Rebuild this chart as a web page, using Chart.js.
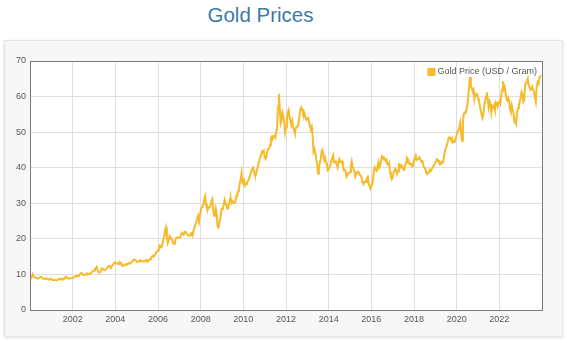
<!DOCTYPE html>
<html>
<head>
<meta charset="utf-8">
<title>Gold Prices</title>
<script src="https://cdn.jsdelivr.net/npm/chart.js@4/dist/chart.umd.min.js"></script>
<style>
    html, body { margin: 0; padding: 0; background: #fff; }
    body { width: 567px; height: 343px; position: relative; overflow: hidden; font-family: "Liberation Sans", Arial, sans-serif; }
    .page-title { position: absolute; left: 0; top: 3px; width: 521px; text-align: center; font-size: 20.5px; color: #3b7ba6; }
    .chart-panel { position: absolute; left: 4px; top: 40px; width: 557px; height: 295px; background: #f7f7f7; border: 1px solid #e4e4e4; box-shadow: 0 1px 3px rgba(0,0,0,0.12); }
    #ChartGoldPrices { position: absolute; left: 0; top: 0; }
</style>
</head>
<body>
<div class="page-title">Gold Prices</div>
<div class="chart-panel"></div>
<canvas id="ChartGoldPrices" width="567" height="343"></canvas>

<script>
    var seriesLabel = "Gold Price (USD / Gram)";

    // one row per year, two readings a month (USD per gram)
    var years = [2000, 2001, 2002, 2003, 2004, 2005, 2006, 2007, 2008, 2009, 2010, 2011,
                 2012, 2013, 2014, 2015, 2016, 2017, 2018, 2019, 2020, 2021, 2022, 2023];

    var gramPrices = [
        [9.6, 9.3, 9.2, 10.0, 9.5, 9.3, 9.1, 9.0, 8.9, 8.8, 8.8, 9.2, 9.3, 9.2, 9.0, 8.8, 8.8, 8.8, 8.7, 8.8, 8.6, 8.5, 8.7, 8.8],
        [8.6, 8.5, 8.4, 8.5, 8.5, 8.4, 8.3, 8.4, 8.7, 8.8, 8.7, 8.6, 8.6, 8.8, 8.7, 8.9, 9.3, 9.0, 9.1, 8.9, 8.8, 8.9, 8.9, 8.9],
        [9.0, 9.1, 9.3, 9.5, 9.6, 9.4, 9.6, 9.8, 10.0, 10.3, 10.4, 10.1, 9.8, 9.9, 9.9, 10.0, 10.3, 10.2, 10.1, 10.2, 10.3, 10.4, 10.8, 11.0],
        [11.1, 11.5, 11.7, 12.1, 11.2, 10.6, 10.5, 10.6, 11.2, 11.7, 11.6, 11.3, 11.2, 11.4, 11.6, 11.9, 12.3, 12.4, 12.2, 12.0, 12.3, 12.6, 13.0, 13.3],
        [13.4, 13.2, 13.1, 12.9, 13.2, 13.5, 13.3, 12.6, 12.4, 12.6, 12.6, 12.8, 12.7, 12.9, 12.9, 13.2, 13.0, 13.2, 13.5, 13.6, 14.0, 14.2, 14.2, 14.0],
        [13.6, 13.5, 13.6, 13.8, 14.0, 13.7, 13.8, 13.8, 13.6, 13.8, 13.9, 14.1, 13.6, 13.7, 14.0, 14.3, 14.6, 15.0, 15.2, 15.0, 15.3, 15.6, 16.3, 16.4],
        [16.8, 17.8, 18.1, 17.6, 17.7, 18.6, 19.8, 20.8, 22.4, 23.2, 20.3, 18.8, 19.6, 20.8, 20.5, 20.0, 19.7, 18.8, 18.6, 18.9, 20.0, 20.4, 20.4, 20.3],
        [20.2, 20.5, 21.3, 21.7, 21.4, 21.2, 21.9, 22.0, 21.6, 21.2, 21.0, 20.8, 21.0, 21.5, 21.6, 21.0, 22.3, 23.3, 23.9, 24.6, 25.6, 26.5, 25.5, 26.3],
        [27.7, 28.8, 29.0, 29.7, 31.0, 32.0, 29.8, 28.8, 28.3, 28.9, 28.8, 29.4, 30.6, 31.2, 28.6, 26.5, 26.8, 28.5, 27.2, 23.5, 23.2, 24.7, 25.5, 27.5],
        [28.4, 28.8, 29.6, 31.0, 30.2, 29.5, 28.5, 28.7, 29.7, 31.2, 31.3, 30.1, 30.5, 30.0, 30.2, 30.4, 32.0, 32.0, 33.4, 34.0, 35.6, 36.7, 38.5, 35.8],
        [35.5, 36.3, 35.0, 35.4, 35.6, 36.2, 36.6, 37.5, 38.1, 39.2, 39.6, 40.0, 38.9, 38.0, 37.9, 39.2, 40.0, 41.0, 42.2, 43.0, 43.6, 44.6, 44.4, 44.8],
        [43.1, 42.5, 43.1, 44.6, 45.3, 45.4, 46.3, 48.2, 48.7, 48.1, 49.0, 49.0, 48.5, 50.2, 51.2, 57.2, 60.8, 57.0, 52.5, 53.3, 55.5, 54.5, 52.8, 50.0],
        [51.4, 53.4, 55.4, 56.2, 54.6, 53.0, 52.0, 53.2, 51.6, 50.5, 49.7, 51.2, 51.4, 51.8, 52.2, 54.0, 56.4, 57.0, 56.5, 55.4, 55.8, 55.0, 54.0, 53.5],
        [53.9, 54.0, 52.8, 51.6, 51.0, 51.6, 49.0, 44.5, 45.2, 44.2, 42.4, 41.0, 38.4, 39.8, 41.4, 42.2, 44.5, 45.0, 43.6, 42.2, 42.8, 41.5, 40.8, 39.3],
        [39.6, 40.3, 40.6, 42.0, 42.5, 43.4, 41.5, 41.6, 41.7, 41.0, 40.1, 41.6, 42.4, 41.6, 41.5, 41.8, 40.4, 39.3, 39.4, 39.0, 37.5, 38.0, 38.4, 38.5],
        [38.8, 40.6, 41.8, 40.2, 39.6, 38.8, 37.6, 38.6, 38.5, 38.9, 38.8, 38.0, 37.8, 37.3, 35.9, 35.4, 36.0, 36.2, 36.0, 37.0, 37.4, 35.6, 34.8, 34.2],
        [35.0, 35.3, 36.8, 39.6, 40.0, 39.6, 39.2, 40.3, 41.5, 40.0, 40.6, 42.0, 43.2, 42.8, 43.0, 42.3, 42.0, 42.3, 41.0, 40.8, 41.3, 38.8, 37.5, 36.8],
        [37.4, 38.6, 39.2, 39.7, 39.5, 38.3, 39.0, 41.0, 40.9, 40.2, 40.6, 40.0, 39.5, 39.4, 40.6, 41.5, 42.8, 42.5, 41.6, 41.0, 41.2, 40.9, 40.3, 40.6],
        [42.3, 42.8, 43.4, 42.2, 42.4, 42.5, 42.9, 42.4, 41.8, 41.9, 41.2, 40.2, 40.0, 39.5, 38.4, 38.2, 38.6, 38.7, 39.5, 39.3, 39.6, 40.1, 40.5, 41.1],
        [41.3, 41.9, 42.4, 42.2, 41.6, 41.3, 41.0, 41.6, 41.4, 41.6, 43.5, 45.0, 45.6, 45.6, 47.3, 48.4, 48.6, 48.3, 47.6, 48.2, 47.1, 47.3, 47.5, 48.3],
        [49.3, 50.2, 50.6, 51.4, 52.6, 49.6, 47.6, 52.8, 55.0, 55.5, 55.4, 56.3, 57.4, 59.8, 63.0, 65.5, 62.8, 62.5, 61.4, 61.9, 59.3, 60.8, 60.5, 60.6],
        [59.5, 59.0, 57.5, 56.2, 55.0, 54.0, 55.0, 57.3, 58.8, 60.0, 61.2, 59.0, 57.0, 58.6, 57.9, 55.5, 57.3, 57.0, 57.5, 56.4, 58.5, 58.2, 57.2, 58.3],
        [58.6, 58.0, 60.0, 62.0, 64.3, 62.1, 62.7, 60.9, 59.5, 58.9, 59.6, 58.6, 56.4, 55.7, 57.5, 56.3, 55.2, 53.0, 53.4, 52.5, 55.8, 56.7, 57.5, 58.6],
        [59.8, 61.3, 60.7, 58.5, 59.0, 63.2, 64.0, 64.2, 65.0, 63.2, 62.6, 61.9, 62.1, 62.8, 61.8, 61.4, 59.8, 58.6, 62.6, 64.0, 63.6, 65.2, 65.6, 66.0]
    ];

    var tickYears = [2002, 2004, 2006, 2008, 2010, 2012, 2014, 2016, 2018, 2020, 2022];
    var priceTicks = [0, 10, 20, 30, 40, 50, 60, 70];

    function GetPoints(rows) {
        var points = [];
        for (var r = 0; r < rows.length; r++) {
            var perYear = rows[r].length;
            for (var i = 0; i < perYear; i++) {
                points.push({ x: years[r] + i / perYear, y: rows[r][i] });
            }
        }
        return points;
    }

    var gold = '#f6ba2a';
    var fontFamily = '"Liberation Sans", Arial, sans-serif';
    var tickFont = { family: fontFamily, size: 9 };

    // white plot background, full frame, and the legend tucked in the top right corner
    var plotFrame = {
        id: 'plotFrame',
        beforeDraw: function (chart) {
            var a = chart.chartArea, ctx = chart.ctx;
            ctx.save();
            ctx.fillStyle = '#ffffff';
            ctx.fillRect(a.left, a.top, a.right - a.left, a.bottom - a.top);
            ctx.restore();
        },
        afterDatasetsDraw: function (chart) {
            var a = chart.chartArea, ctx = chart.ctx;
            ctx.save();
            ctx.strokeStyle = '#7a7a7a';
            ctx.lineWidth = 1;
            ctx.strokeRect(Math.round(a.left) + 0.5, Math.round(a.top) + 0.5,
                Math.round(a.right - a.left), Math.round(a.bottom - a.top));

            var ds = chart.data.datasets[0];
            ctx.font = '9px ' + fontFamily;
            ctx.textBaseline = 'middle';
            ctx.textAlign = 'left';
            var textW = ctx.measureText(ds.label).width;
            var textX = a.right - 5 - textW;
            var midY = a.top + 11;
            ctx.fillStyle = ds.borderColor;
            ctx.fillRect(textX - 10, midY - 4, 8, 8);
            ctx.fillStyle = '#555';
            ctx.fillText(ds.label, textX, midY);
            ctx.restore();
        }
    };

    new Chart(document.getElementById('ChartGoldPrices'), {
        type: 'line',
        data: {
            datasets: [{
                label: seriesLabel,
                data: GetPoints(gramPrices),
                borderColor: gold,
                backgroundColor: gold,
                borderWidth: 2,
                pointRadius: 0,
                tension: 0,
                fill: false
            }]
        },
        options: {
            responsive: false,
            animation: false,
            layout: { padding: { left: 4, top: 61, right: 25, bottom: 0 } },
            plugins: {
                title: { display: false },
                tooltip: { enabled: false },
                legend: { display: false }
            },
            scales: {
                x: {
                    type: 'linear',
                    min: 2000,
                    max: 2024,
                    afterFit: function (scale) { scale.height = 33; },
                    afterBuildTicks: function (scale) {
                        scale.ticks = [{ value: 2000 }].concat(tickYears.map(function (y) { return { value: y }; }), [{ value: 2024 }]);
                    },
                    ticks: {
                        color: '#555',
                        font: tickFont,
                        padding: 4,
                        maxRotation: 0,
                        callback: function (value) {
                            return tickYears.indexOf(value) >= 0 ? String(value) : '';
                        }
                    },
                    grid: { color: '#dedede', tickLength: 0 },
                    border: { color: '#7a7a7a' }
                },
                y: {
                    min: 0,
                    max: 70,
                    afterFit: function (scale) { scale.width = 26; },
                    afterBuildTicks: function (scale) {
                        scale.ticks = priceTicks.map(function (v) { return { value: v }; });
                    },
                    ticks: {
                        color: '#555',
                        font: tickFont,
                        padding: 4
                    },
                    grid: { color: '#dedede', tickLength: 0 },
                    border: { color: '#7a7a7a' }
                }
            }
        },
        plugins: [plotFrame]
    });
</script>
</body>
</html>
